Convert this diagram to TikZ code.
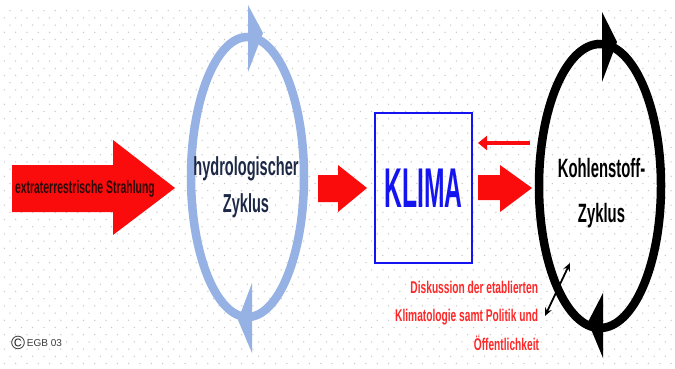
\documentclass[tikz,border=0pt]{standalone}
\usepackage{fontspec}
\setmainfont{Liberation Sans}
\usepackage{graphicx}
\usetikzlibrary{arrows.meta}
\definecolor{redc}{RGB}{250,12,12}
\definecolor{ringblue}{RGB}{150,178,228}
\definecolor{klimablue}{RGB}{20,20,240}
\definecolor{navy}{RGB}{28,40,70}
\definecolor{redtext}{RGB}{255,40,40}
\definecolor{dotc}{RGB}{200,200,200}
\newcommand{\sqz}[2]{\scalebox{#1}[1]{#2}}
\begin{document}
\begin{tikzpicture}[x=1pt,y=-1pt,
  ringb/.style={draw=ringblue, line width=8.5},
  ringk/.style={draw=black, line width=8.5},
  blockarrow/.style={fill=redc},
  lbl/.style={inner sep=0pt, outer sep=0pt},
  hydfont/.style={lbl, anchor=base, text=navy, font=\fontsize{26}{30}\selectfont\bfseries},
  kohlfont/.style={lbl, anchor=base, text=black, font=\fontsize{26.5}{30}\selectfont\bfseries},
  diskfont/.style={lbl, anchor=base east, text=redtext, font=\fontsize{17}{20}\selectfont\bfseries}]
\useasboundingbox (0,0) rectangle (675,369);
\fill[white] (0,0) rectangle (675,369);
% dotted background
\foreach \j [evaluate=\j as \yy using {10.7+7.2*\j}, evaluate=\j as \off using {mod(\j,2)*5.65}] in {0,...,49} {
  \foreach \i in {0,...,59} {
    \fill[dotc] ({10+11.3*\i-\off},\yy) circle (0.75);
  }
}
% left big arrow with text
\fill[blockarrow] (12,165) -- (113,165) -- (113,140) -- (175,188) -- (113,235) -- (113,212) -- (12,212) -- cycle;
\node[lbl, anchor=base west, text={rgb,255:red,45;green,10;blue,10}, font=\fontsize{18}{20}\selectfont\bfseries] (strahl) at (15,193) {\sqz{0.58}{extraterrestrische Strahlung}};
% hydrological cycle
\coordinate (hyd) at (247.5,177);
\draw[ringb] (hyd) ellipse [x radius=56.5, y radius=140];
\fill[ringblue] (248,5) -- (263,33) -- (248,72) -- cycle;
\fill[ringblue] (252,283) -- (238,320) -- (252,353) -- cycle;
\node[hydfont] (hydA) at (246,175) {\sqz{0.56}{hydrologischer}};
\node[hydfont] (hydB) at (246,212) {\sqz{0.56}{Zyklus}};
% arrow to KLIMA
\fill[blockarrow] (318,175) -- (338,175) -- (338,165) -- (367,188) -- (338,212) -- (338,202) -- (318,202) -- cycle;
% KLIMA box
\node[draw=klimablue, line width=2, minimum width=97pt, minimum height=150pt, inner sep=0pt, text=klimablue, font=\fontsize{56}{60}\selectfont\bfseries] (klima) at (423.5,188) {\sqz{0.44}{KLIMA}};
% arrow to carbon cycle
\fill[blockarrow] (478,175) -- (500,175) -- (500,165) -- (532,188) -- (500,212) -- (500,200) -- (478,200) -- cycle;
% thin feedback arrow
\coordinate (fbs) at (530,143);
\coordinate (fbe) at (478,143);
\draw[redc, line width=4, -{Triangle[length=9pt,width=14pt]}] (fbs) -- (fbe);
% carbon cycle
\coordinate (kohl) at (600,186);
\draw[ringk] (kohl) ellipse [x radius=61, y radius=142];
\fill[black] (602,12) -- (617,42) -- (602,82) -- cycle;
\fill[black] (603,293) -- (588,322) -- (603,358) -- cycle;
\node[kohlfont] (kohlA) at (601.5,177) {\sqz{0.56}{Kohlenstoff-}};
\node[kohlfont] (kohlB) at (601.5,222) {\sqz{0.56}{Zyklus}};
% double arrow
\coordinate (da) at (545,316);
\coordinate (db) at (570,263);
\draw[black, line width=1.8, {Stealth[length=8pt,width=7pt]}-{Stealth[length=8pt,width=7pt]}] (da) -- (db);
% red discussion text
\node[diskfont] (diskA) at (538,293) {\sqz{0.6}{Diskussion der etablierten}};
\node[diskfont] (diskB) at (538,321) {\sqz{0.6}{Klimatologie samt Politik und}};
\node[diskfont] (diskC) at (539,350) {\sqz{0.6}{Öffentlichkeit}};
% copyright
\node[lbl, text={rgb,255:red,40;green,40;blue,40}, font=\fontsize{19}{20}\selectfont] (copy) at (18,343) {©};
\node[lbl, anchor=west, text={rgb,255:red,60;green,60;blue,60}, font=\fontsize{10}{12}\selectfont] (egb) at (27,343) {EGB 03};
\end{tikzpicture}
\end{document}
